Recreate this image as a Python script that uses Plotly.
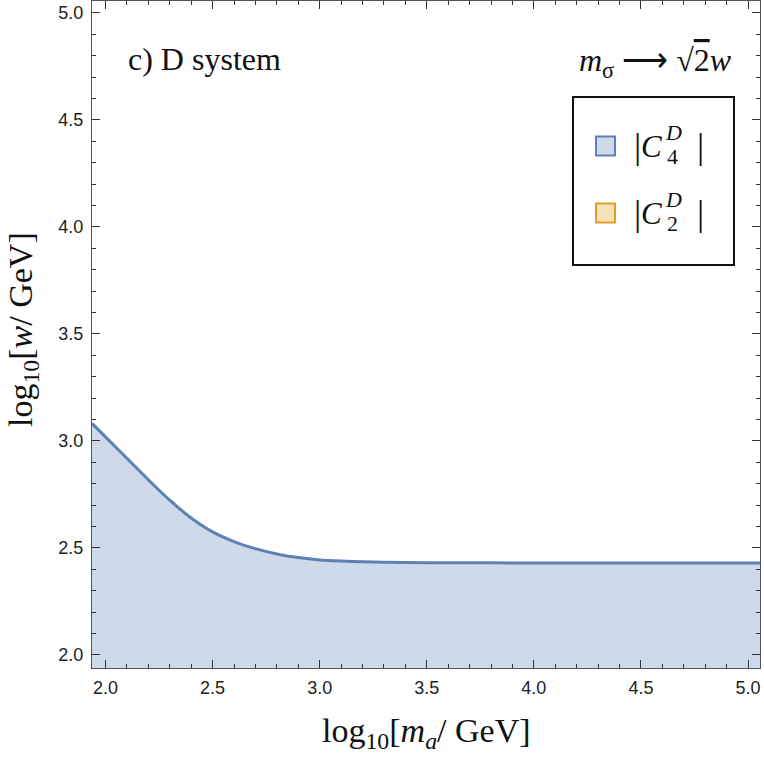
import plotly.graph_objects as go

# ---- data ----
log_ma = [1.937, 2.0, 2.1, 2.2, 2.3, 2.4, 2.5, 2.6, 2.7, 2.8, 2.9, 3.0, 3.1, 3.2, 3.4, 3.6, 4.0, 4.5, 5.056]
log_w_C4 = [3.082, 3.019, 2.919, 2.819, 2.723, 2.640, 2.575, 2.530, 2.497, 2.472, 2.455, 2.444,
            2.4385, 2.435, 2.432, 2.4307, 2.430, 2.430, 2.430]

x_ticks = [2.0, 2.5, 3.0, 3.5, 4.0, 4.5, 5.0]
y_ticks = [2.0, 2.5, 3.0, 3.5, 4.0, 4.5, 5.0]
x_range = [1.937, 5.056]
y_range = [1.939, 5.056]

BLUE = "#5E81B5"
ORANGE = "#E19C24"
SERIF = "Liberation Serif"
SANS = "Liberation Sans"

W, H = 764, 761
L, R, T, B = 92, 4, 1, 93
PW, PH = W - L - R, H - T - B

def px(xp):
    return (xp - L) / PW

def py(yp):
    return (H - B - yp) / PH

fig = go.Figure()
fig.add_trace(go.Scatter(
    x=log_ma, y=log_w_C4, mode="lines",
    line=dict(color=BLUE, width=3, shape="spline", smoothing=0.6),
    fill="tozeroy", fillcolor="rgba(94,129,181,0.3)",
    showlegend=False, hoverinfo="skip",
))

axis_common = dict(
    showgrid=False, zeroline=False, showline=True, linecolor="#555555", linewidth=1.3,
    mirror="ticks", ticks="inside", ticklen=8, tickwidth=1.3, tickcolor="#333333",
    tickfont=dict(family=SANS, size=18, color="#222222"),
    minor=dict(ticks="inside", ticklen=4, tickwidth=1, tickcolor="#333333", dtick=0.1),
)
fig.update_xaxes(range=x_range, tickvals=x_ticks, ticktext=[f"{v:.1f}" for v in x_ticks],
                 ticklabelstandoff=3, **axis_common)
fig.update_yaxes(range=y_range, tickvals=y_ticks, ticktext=[f"{v:.1f}" for v in y_ticks],
                 ticklabelstandoff=4, **axis_common)

ann = []
def txt(text, x, y, size, xanchor="left", yanchor="middle", angle=0, family=SERIF):
    ann.append(dict(text=text, x=px(x), y=py(y), xref="paper", yref="paper",
                    xanchor=xanchor, yanchor=yanchor, showarrow=False, textangle=angle,
                    font=dict(family=family, size=size, color="#111111")))

txt("c) D system", 126, 59, 32)
txt("<i>m</i><sub>σ</sub> ⟶ √<span style='text-decoration:overline'>2</span><i>w</i>", 734, 62, 32, xanchor="right")
txt("log<sub>10</sub>[<i>m</i><sub><i>a</i></sub>/ GeV]", 426, 733, 34, xanchor="center")
txt("log<sub>10</sub>[<i>w</i>/ GeV]", 23, 330, 34, xanchor="center", angle=-90)

# legend built by hand
shapes = [dict(type="rect", xref="paper", yref="paper",
               x0=px(573), x1=px(734), y0=py(97), y1=py(265),
               line=dict(color="#111111", width=2), fillcolor="white")]
entries = [("4", BLUE, "rgba(94,129,181,0.3)", 146),
           ("2", ORANGE, "rgba(225,156,36,0.3)", 213)]
for sub, lc, fc, yc in entries:
    shapes.append(dict(type="rect", xref="paper", yref="paper",
                       x0=px(596), x1=px(615), y0=py(yc - 9.5), y1=py(yc + 9.5),
                       line=dict(color=lc, width=2), fillcolor=fc))
    txt("|", 632, yc, 36)
    txt("<i>C</i>", 639, yc + 1, 31)
    txt("<i>D</i>", 663, yc - 13, 22)
    txt(sub, 665, yc + 10, 22)
    txt("|", 695, yc, 36)

fig.update_layout(
    width=W, height=H, margin=dict(l=L, r=R, t=T, b=B),
    paper_bgcolor="white", plot_bgcolor="white",
    annotations=ann, shapes=shapes, showlegend=False,
)
fig.write_html("out.html", config={"displayModeBar": False},
               post_script="document.body.style.margin='0';")
